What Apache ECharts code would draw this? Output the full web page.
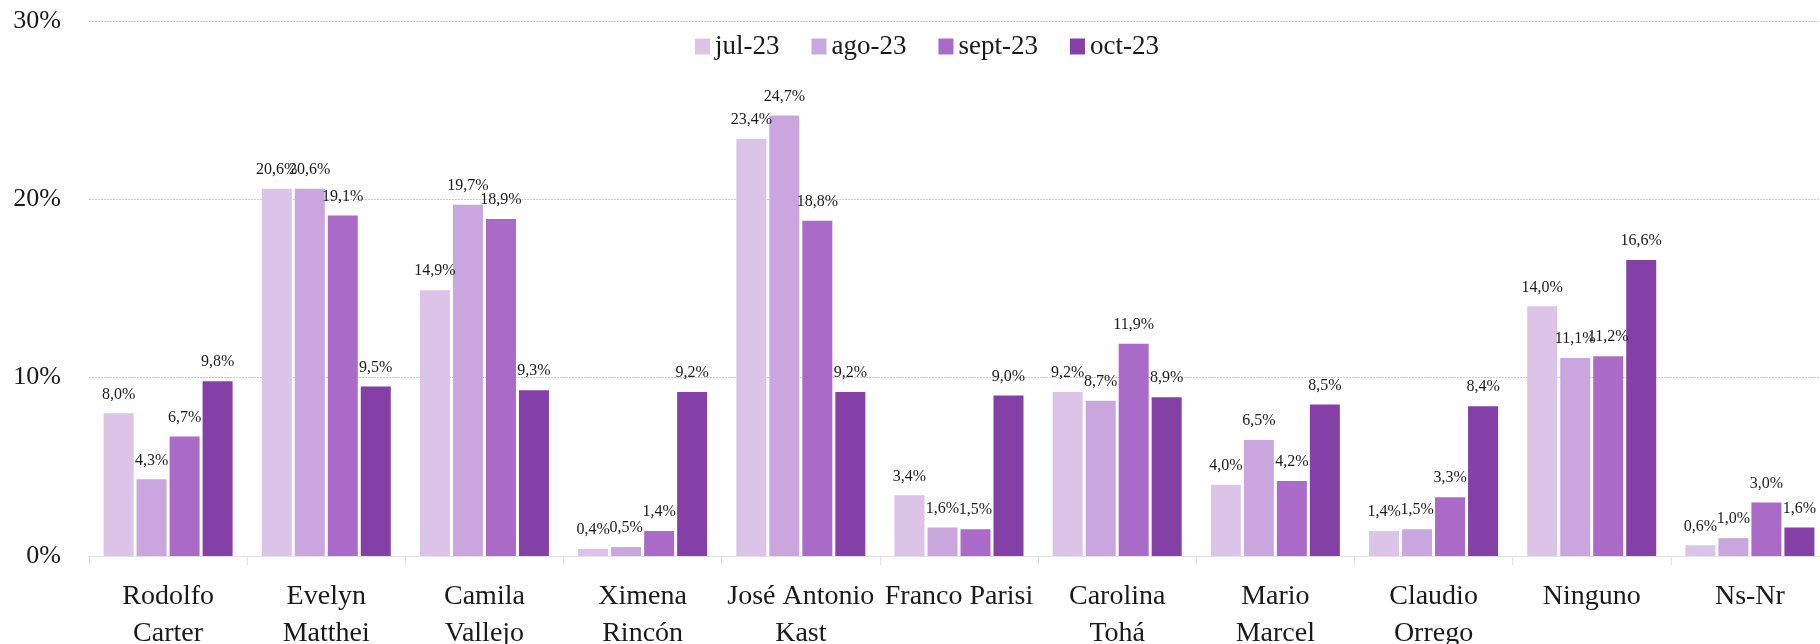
<!DOCTYPE html>
<html>
<head>
<meta charset="utf-8">
<script src="https://cdn.jsdelivr.net/npm/echarts@6/dist/echarts.min.js"></script>
<style>
  html, body { margin: 0; padding: 0; background: #fff; }
  #chart { width: 1820px; height: 644px; }
</style>
</head>
<body>
<div id="chart"></div>
<script>
// Candidatos (eje X)
const candidatos = [
    'Rodolfo\nCarter', 'Evelyn\nMatthei', 'Camila\nVallejo', 'Ximena\nRincón',
    'José Antonio\nKast', 'Franco Parisi', 'Carolina\nTohá', 'Mario\nMarcel',
    'Claudio\nOrrego', 'Ninguno', 'Ns-Nr'
];

// Meses (leyenda)
const meses = ['jul-23', 'ago-23', 'sept-23', 'oct-23'];
const colores = ['#dcc4e9', '#caa6df', '#a96bc7', '#8540a7'];

// Valores en %
const jul23  = [8.0, 20.6, 14.9, 0.4, 23.4, 3.4, 9.2, 4.0, 1.4, 14.0, 0.6];
const ago23  = [4.3, 20.6, 19.7, 0.5, 24.7, 1.6, 8.7, 6.5, 1.5, 11.1, 1.0];
const sept23 = [6.7, 19.1, 18.9, 1.4, 18.8, 1.5, 11.9, 4.2, 3.3, 11.2, 3.0];
const oct23  = [9.8, 9.5, 9.3, 9.2, 9.2, 9.0, 8.9, 8.5, 8.4, 16.6, 1.6];

// Marcas del eje Y
const yTicks = [0, 10, 20, 30];

const valores = [jul23, ago23, sept23, oct23];
const fuente = 'Liberation Serif, Times New Roman, serif';

const chart = echarts.init(document.getElementById('chart'));

const series = meses.map((mes, i) => ({
    name: mes,
    type: 'bar',
    data: valores[i],
    barWidth: 30,
    barGap: '10%',
    itemStyle: { color: colores[i] },
    label: {
        show: true,
        position: 'top',
        distance: 11,
        color: '#1a1a1a',
        fontFamily: fuente,
        fontSize: 16,
        formatter: p => p.value.toFixed(1).replace('.', ',') + '%'
    }
}));

chart.setOption({
    animation: false,
    textStyle: { fontFamily: fuente },
    legend: {
        data: meses,
        left: 690,
        top: 28,
        icon: 'rect',
        itemWidth: 15,
        itemHeight: 16,
        itemGap: 32,
        textStyle: { fontFamily: fuente, fontSize: 27, color: '#1a1a1a' }
    },
    grid: {
        left: 89,
        top: 21,
        width: 1740,
        height: 535,
        containLabel: false,
        outerBoundsMode: 'none'
    },
    xAxis: {
        type: 'category',
        data: candidatos,
        axisLine: { show: true, lineStyle: { color: '#e3e3e3', width: 1 } },
        axisTick: { show: true, length: 9, lineStyle: { color: '#e3e3e3' } },
        axisLabel: {
            interval: 0,
            margin: 22,
            fontFamily: fuente,
            fontSize: 28,
            lineHeight: 37,
            color: '#1a1a1a'
        }
    },
    yAxis: {
        type: 'value',
        min: yTicks[0],
        max: yTicks[yTicks.length - 1],
        interval: 10,
        axisLine: { show: false },
        axisTick: { show: false },
        axisLabel: {
            margin: 28,
            fontFamily: fuente,
            fontSize: 26,
            color: '#1a1a1a',
            formatter: v => v + '%'
        },
        splitLine: {
            show: true,
            lineStyle: { color: '#9edcf0', type: [2, 1], width: 1 }
        }
    },
    series: series
});
</script>
</body>
</html>
